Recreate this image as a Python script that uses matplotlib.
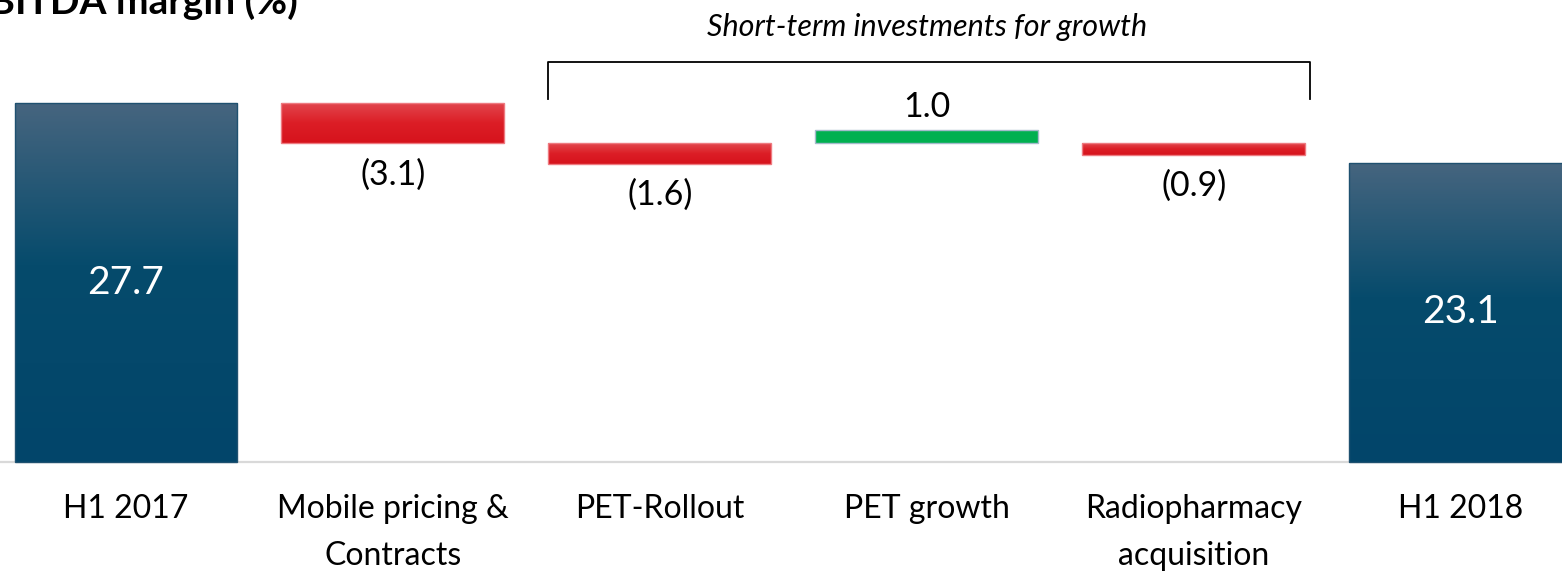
#!/usr/bin/env python3
"""
EBITDA margin bridge H1 2017 -> H1 2018 (waterfall with gradient bars)
"""

import numpy as np
import matplotlib.pyplot as plt
from matplotlib.colors import LinearSegmentedColormap

plt.rcParams['font.family'] = ['Lato', 'DejaVu Sans']

# --- data ---
categories = ['H1 2017', 'Mobile pricing &\nContracts', 'PET-Rollout',
              'PET growth', 'Radiopharmacy\nacquisition', 'H1 2018']
start_value = 27.7
end_value = 23.1
deltas = [-3.1, -1.6, 1.0, -0.9]          # mobile, PET-rollout, PET growth, radiopharmacy
value_labels = ['27.7', '(3.1)', '(1.6)', '1.0', '(0.9)', '23.1']
title = 'EBITDA margin (%)'
bracket_text = 'Short-term investments for growth'

# colours
blue_cmap = LinearSegmentedColormap.from_list(
    'blue', [(0.0, '#46657f'), (0.45, '#064b6c'), (1.0, '#02456a')])
red_cmap = LinearSegmentedColormap.from_list(
    'red', [(0.0, '#e2484f'), (0.5, '#dc1e26'), (1.0, '#d6131c')])
green = '#00b050'


def build_bars():
    """bottoms / heights: the three investment bars all hang off the level after mobile"""
    level = start_value + deltas[0]
    bottoms = [0, start_value, level, level, level, 0]
    heights = [start_value, deltas[0], deltas[1], deltas[2], deltas[3], end_value]
    return bottoms, heights


def main():
    fig = plt.figure(figsize=(15.62, 5.72), dpi=100)
    ax = fig.add_axes([0, 0, 1, 1])
    ax.axis('off')

    x = np.arange(len(categories))
    width = 0.835
    bottoms, heights = build_bars()

    ax.axhline(0, color='#d9d9d9', lw=1.6, zorder=1)

    grad = np.linspace(0, 1, 256).reshape(-1, 1)
    for i, (b, h) in enumerate(zip(bottoms, heights)):
        if i in (0, 5):
            cmap, edge = blue_cmap, '#1f5170'
        elif h < 0:
            cmap, edge = red_cmap, '#ee7a80'
        else:
            cmap, edge = None, '#a4bacb'
        fc = green if cmap is None else 'none'
        bar = ax.bar(x[i], h, bottom=b, width=width, color=fc,
                     edgecolor=edge, linewidth=1.0, zorder=3)[0]
        if cmap is not None:
            lo, hi = sorted([b, b + h])
            img = ax.imshow(grad, extent=[x[i] - width / 2, x[i] + width / 2, lo, hi],
                            aspect='auto', cmap=cmap, origin='upper', zorder=2)
            img.set_clip_path(bar)

    # value labels
    fs_cat = 23
    fs_val = 24.5
    for i, (b, h) in enumerate(zip(bottoms, heights)):
        if i in (0, 5):
            ax.text(x[i], h / 2, value_labels[i], ha='center', va='center',
                    color='white', fontsize=28, zorder=4)
        elif h < 0:
            ax.annotate(value_labels[i], (x[i], b + h), xytext=(0, -22.5),
                        textcoords='offset points', ha='center', va='center',
                        fontsize=fs_val)
        else:
            ax.annotate(value_labels[i], (x[i], b + h), xytext=(0, 17),
                        textcoords='offset points', ha='center', va='center',
                        fontsize=fs_val)

    # category labels
    for i, cat in enumerate(categories):
        ax.text(x[i], -2.5, cat, ha='center', va='top', fontsize=fs_cat,
                linespacing=1.68)

    # bracket over the growth investments
    bx0 = x[2] - width / 2
    bx1 = x[4] + width / 2 + 0.02
    ax.plot([bx0, bx0, bx1, bx1], [28.0, 30.83, 30.83, 28.0],
            color='black', lw=1.3, zorder=3)
    ax.text(x[3], 33.56, bracket_text, ha='center', va='center',
            fontsize=22, style='italic')

    ax.set_xlim(-0.472, 5.380)
    ax.set_ylim(-8.49, 35.65)

    fig.text(298 / 1562, 1 - 14 / 572, title, ha='right', va='baseline',
             fontsize=28, weight='bold')

    fig.savefig('out.png', dpi=100)


if __name__ == '__main__':
    main()
